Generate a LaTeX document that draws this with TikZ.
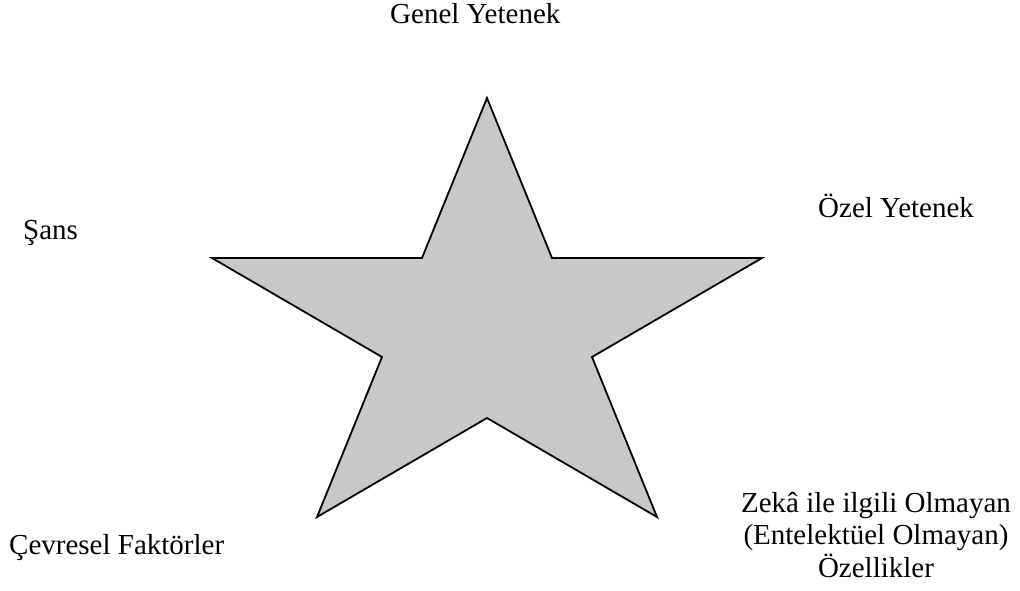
\documentclass[tikz,border=0pt]{standalone}
\usepackage{fontspec}
\setmainfont{Liberation Serif}
\definecolor{starfill}{RGB}{200,200,200}
\begin{document}
\begin{tikzpicture}[x=1pt,y=-1pt,
  lbl/.style={font=\fontsize{29}{32.5}\selectfont, inner sep=0pt, anchor=base west},
  starshape/.style={draw=black, line width=1.8pt, fill=starfill, line join=miter}]
\useasboundingbox (0,0) rectangle (1020,590);
\draw[starshape] (487,98) -- (552,258) -- (762,258) -- (592,357) -- (657,517) -- (487,418)
  -- (317,517) -- (382,357) -- (212,258) -- (422,258) -- cycle;
\node[lbl] (genel) at (390,23) {Genel Yetenek};
\node[lbl] (sans) at (23,239) {Şans};
\node[lbl] (ozel) at (818,217) {Özel Yetenek};
\node[lbl] (cevre) at (9,554) {Çevresel Faktörler};
\node[lbl, anchor=base, align=center] (zeka) at (876,577) {Zekâ ile ilgili Olmayan\\(Entelektüel Olmayan)\\Özellikler};
\end{tikzpicture}
\end{document}
